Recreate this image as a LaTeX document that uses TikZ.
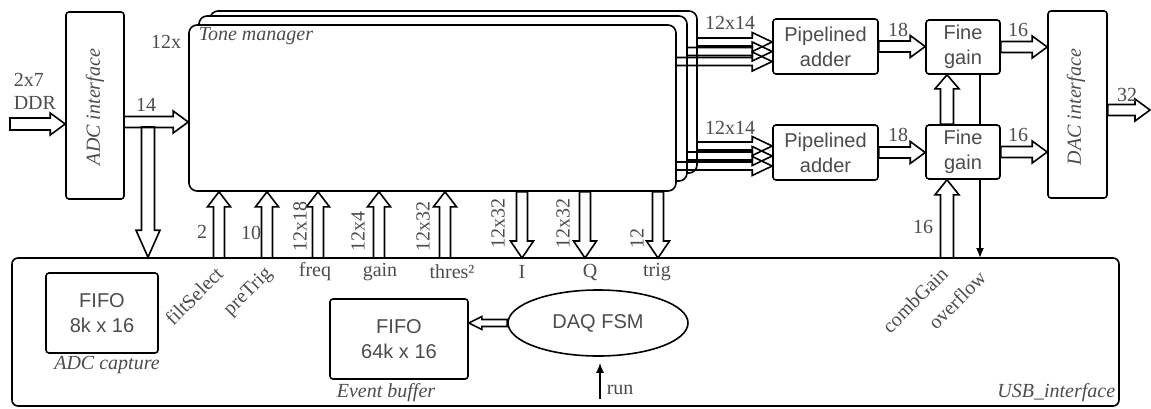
\documentclass[tikz,border=0pt]{standalone}
\usepackage{fontspec}
\setmainfont{Liberation Serif}
\newfontfamily\arialf{Liberation Sans}
\usetikzlibrary{shapes.geometric,calc,arrows.meta}
% horizontal fat arrow: [opts]{start}{end}{half shaft}{half head}{head length}
\newcommand\harr[6][]{%
  \draw[fat,#1] let \p1=#2, \p2=#3, \n1={ifthenelse(\x2>\x1,1,-1)} in
   (\x1,{\y1+#4}) -- ({\x2-(\n1)*(#6)},{\y1+#4}) -- ({\x2-(\n1)*(#6)},{\y1+#5}) -- (\x2,\y1)
   -- ({\x2-(\n1)*(#6)},{\y1-#5}) -- ({\x2-(\n1)*(#6)},{\y1-#4}) -- (\x1,{\y1-#4}) -- cycle;}
% vertical fat arrow
\newcommand\varr[6][]{%
  \draw[fat,#1] let \p1=#2, \p2=#3, \n1={ifthenelse(\y2>\y1,1,-1)} in
   ({\x1+#4},\y1) -- ({\x1+#4},{\y2-(\n1)*(#6)}) -- ({\x1+#5},{\y2-(\n1)*(#6)}) -- (\x1,\y2)
   -- ({\x1-#5},{\y2-(\n1)*(#6)}) -- ({\x1-#4},{\y2-(\n1)*(#6)}) -- ({\x1-#4},\y1) -- cycle;}
\begin{document}
\begin{tikzpicture}[x=0.5pt,y=-0.5pt,line width=0.8pt,
  fat/.style={draw=black,line join=miter},
  box/.style={draw,fill=white,rounded corners=1.5pt,inner sep=0pt,
    font=\arialf\fontsize{10}{12.5}\selectfont,text=black!70,align=center},
  tmbox/.style={draw,fill=white,rounded corners=4pt,inner sep=0pt},
  lbl/.style={inner sep=0pt,font=\fontsize{10}{12}\selectfont,text=black!70},
  ilbl/.style={lbl,font=\itshape\fontsize{10}{12}\selectfont},
  vlbl/.style={lbl,rotate=90,anchor=west},
  dlbl/.style={lbl,rotate=45,anchor=east},
  thin arrow/.style={-{Latex[length=5pt,width=4pt]}}]
\useasboundingbox (0,0) rectangle (1151,408);

% USB interface
\node[tmbox,rounded corners=3pt,minimum width=553.5pt,minimum height=74pt] (usb) at (565.5,332) {};
\node[ilbl,anchor=east] at (1116,393) {USB\_interface};

% ADC / DAC interfaces
\node[box,minimum width=29pt,minimum height=93.5pt] (adc) at (95,105.5) {};
\node[ilbl,rotate=90] at (95,107) {ADC interface};
\node[box,minimum width=29.5pt,minimum height=93.5pt] (dac) at (1077.5,104.5) {};
\node[ilbl,rotate=90] at (1076,107) {DAC interface};

% Tone manager stack
\node[tmbox,minimum width=243.5pt,minimum height=81pt] (tm3) at (453.5,92) {};
\node[tmbox,minimum width=244pt,minimum height=82.5pt] (tm2) at (443,98.5) {};
\node[tmbox,minimum width=243.5pt,minimum height=83pt] (tm1) at (432.5,108) {};
\node[ilbl,anchor=west] at (198,36) {Tone manager};
\node[lbl] at (166,42) {12x};

% adders and fine gains
\node[box,minimum width=52.5pt,minimum height=27.5pt] (add1) at (825.5,46.5) {Pipelined\\adder};
\node[box,minimum width=52.5pt,minimum height=27.5pt] (add2) at (825.5,152.5) {Pipelined\\adder};
\node[box,minimum width=37pt,minimum height=27pt] (fg1) at (963,47) {Fine\\gain};

% overflow line (passes behind lower fine gain)
\coordinate (ov) at (980,258);
\draw (ov |- fg1.south) -- (ov |- 0,160);
\node[box,minimum width=37pt,minimum height=27pt] (fg2) at (963,152) {Fine\\gain};
\draw[thin arrow] (ov |- fg2.south) -- (ov);

% inside USB
\node[box,minimum width=56pt,minimum height=40pt] (fifo1) at (102,313) {FIFO\\8k x 16};
\node[ilbl] at (107,365) {ADC capture};
\node[box,minimum width=69pt,minimum height=40pt] (fifo2) at (399,339) {FIFO\\64k x 16};
\node[ilbl] at (386,393) {Event buffer};
\node[draw,ellipse,minimum width=90pt,minimum height=33pt,inner sep=0pt,
  font=\arialf\fontsize{10}{12}\selectfont,text=black!70] (fsm) at (598,323) {DAQ FSM};
\harr{(fsm.west)}{(fifo2.east |- fsm.west)}{1.75pt}{3.25pt}{6.5pt}
\coordinate (run) at (600,399);
\draw[thin arrow,shorten >=3pt] (run) -- (run |- fsm.south);
\node[lbl,anchor=west] at (606,390) {run};

% ADC input and output
\coordinate (din) at (10,124);
\harr{(din)}{(din -| adc.west)}{3pt}{5.5pt}{7.5pt}
\node[lbl,anchor=west] at (13,80) {2x7};
\node[lbl,anchor=west] at (13,103) {DDR};
\coordinate (a14) at (124,122);
\harr{(a14)}{(a14 -| tm1.west)}{2.75pt}{5.5pt}{7.5pt}
\node[lbl] at (146,105) {14};
\coordinate (cap) at (148,127);
\varr{(cap)}{(cap |- usb.north)}{3.25pt}{6pt}{13.5pt}

% tone manager outputs to adders
\coordinate (o3a) at (697,42);
\coordinate (o2a) at (687,51.5);
\coordinate (o1a) at (676,61.5);
\coordinate (o3b) at (697,146);
\coordinate (o2b) at (687,156);
\coordinate (o1b) at (676,166);
\foreach \c in {o3a,o2a,o1a}{\harr{(\c)}{(\c -| add1.west)}{2pt}{4.75pt}{10pt}}
\foreach \c in {o3b,o2b,o1b}{\harr{(\c)}{(\c -| add2.west)}{2pt}{4.75pt}{10pt}}
\node[lbl] at (730,23) {12x14};
\node[lbl] at (730,128) {12x14};

% adders -> fine gain -> DAC
\harr{(add1.east)}{(add1.east -| fg1.west)}{2.75pt}{5.5pt}{7.5pt}
\harr{(add2.east)}{(add2.east -| fg2.west)}{2.75pt}{5.5pt}{7.5pt}
\node[lbl] at (898,30) {18};
\node[lbl] at (898,135) {18};
\harr{(fg1.east)}{(fg1.east -| dac.west)}{2.75pt}{5.5pt}{7.5pt}
\harr{(fg2.east)}{(fg2.east -| dac.west)}{2.75pt}{5.5pt}{7.5pt}
\node[lbl] at (1018,30) {16};
\node[lbl] at (1018,135) {16};
\coordinate (dout) at (1150,110);
\harr{(dac.east |- dout)}{(dout)}{2.75pt}{5.5pt}{7.5pt}
\node[lbl] at (1127,95) {32};

% fine gain chain and combGain
\coordinate (cg) at (947,258);
\varr{(cg |- fg2.north)}{(cg |- fg1.south)}{3.25pt}{6pt}{7pt}
\varr{(cg)}{(cg |- fg2.south)}{3.25pt}{6pt}{7.5pt}
\node[lbl] at (923,227) {16};
\node[dlbl] at (945,270) {combGain};
\node[dlbl] at (983,274) {overflow};

% USB -> tone manager
\foreach \xx/\nm in {219/uf,267/up,318/ufr,379/ug,445/ut}{
  \coordinate (\nm) at (\xx,258);
  \varr{(\nm)}{(\nm |- tm1.south)}{2.75pt}{5.75pt}{7.5pt}}
% tone manager -> USB
\foreach \xx/\nm in {522/di,585/dq,658/dt}{
  \coordinate (\nm) at (\xx,258);
  \varr{(\nm |- tm1.south)}{(\nm)}{2.75pt}{5.75pt}{8.5pt}}

\node[lbl] at (202,232) {2};
\node[lbl] at (251,233) {10};
\node[vlbl] at (300,252) {12x18};
\node[vlbl] at (358,252) {12x4};
\node[vlbl] at (423,252) {12x32};
\node[vlbl] at (498,249) {12x32};
\node[vlbl] at (563,249) {12x32};
\node[vlbl] at (637,249) {12};
\node[dlbl] at (220,270) {filtSelect};
\node[dlbl] at (270,271) {preTrig};
\node[lbl] at (315,272) {freq};
\node[lbl] at (380,272) {gain};
\node[lbl] at (452,272) {thres²};
\node[lbl] at (522,272) {I};
\node[lbl] at (590,272) {Q};
\node[lbl] at (657,272) {trig};
\end{tikzpicture}
\end{document}
